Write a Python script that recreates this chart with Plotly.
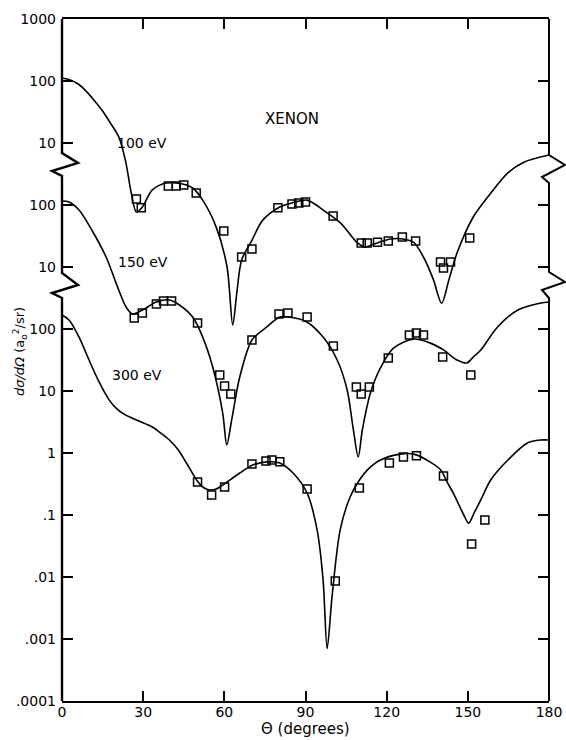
import plotly.graph_objects as go

# ---------------- data (true cross sections, a0^2/sr) ----------------
theta_100_curve = [0, 3, 6, 9, 12, 15, 18, 21, 23.5, 25.6, 27.5, 29.7, 33.4, 38.6, 44.5, 48.3, 52, 57, 61,
                   63.1, 64.6, 66.4, 70.2, 74.2, 80.5, 85, 90.6, 96.5, 103, 109, 112, 116.5, 121.4, 126,
                   130, 133.6, 137.3, 140.3, 143, 146, 152, 158.5, 164.8, 170.7, 180]
dcs_100_curve = [112, 104, 89.5, 68, 48, 32.8, 20.6, 12.5, 5.1, 1.56, 0.77, 0.93, 1.75, 2.26, 2.18, 1.88,
                 1.2, 0.44, 0.1, 0.0116, 0.038, 0.13, 0.27, 0.57, 0.93, 1.08, 1.2, 0.83, 0.51, 0.25, 0.21,
                 0.244, 0.283, 0.283, 0.25, 0.145, 0.062, 0.026, 0.062, 0.168, 0.64, 1.56, 3.3, 4.9, 6.4]
theta_100_data = [27.5, 29.3, 39.3, 42.2, 45, 49.6, 59.8, 66.4, 70.2, 79.8, 85, 87.5, 90, 100.2, 110.6, 112.8,
                  116.6, 120.6, 125.8, 130.7, 139.9, 141, 143.6, 150.7]
dcs_100_data = [1.25, 0.90, 2.02, 2.02, 2.10, 1.56, 0.38, 0.145, 0.195, 0.90, 1.04, 1.08, 1.12, 0.665, 0.244,
                0.244, 0.25, 0.262, 0.305, 0.262, 0.12, 0.096, 0.12, 0.294]

theta_150_curve = [0, 2.6, 6.3, 11, 16.3, 20, 23.7, 26, 29.7, 34.9, 39.7, 43.4, 48.3, 52, 55.7, 59.4, 60.9,
                   62.7, 65.7, 70.2, 75.7, 80.5, 84, 90.5, 96.5, 101.7, 105.4, 107.7, 109.5, 111, 114, 117.7,
                   122.5, 130, 135, 141, 146, 149.6, 152, 154.8, 161, 168.5, 177, 180]
dcs_150_curve = [116, 112, 83, 39.5, 14.5, 5.5, 2.26, 1.75, 2.02, 2.72, 2.94, 2.44, 1.56, 0.74, 0.244, 0.044,
                 0.0135, 0.034, 0.168, 0.665, 1.08, 1.56, 1.56, 1.30, 0.74, 0.316, 0.104, 0.0235, 0.0086,
                 0.0235, 0.093, 0.235, 0.49, 0.69, 0.62, 0.46, 0.316, 0.283, 0.353, 0.46, 1.08, 2.02, 2.62, 2.72]
theta_150_data = [26.7, 29.7, 34.9, 37.5, 40.5, 50.1, 58.3, 60.1, 62.4, 70.2, 80.2, 83.5, 90.6, 100.3, 108.8,
                  110.6, 113.6, 120.6, 128.4, 131, 133.6, 140.7, 151.1]
dcs_150_data = [1.50, 1.81, 2.53, 2.83, 2.83, 1.25, 0.181, 0.120, 0.0895, 0.665, 1.75, 1.81, 1.56, 0.53, 0.116,
                0.0895, 0.116, 0.34, 0.80, 0.86, 0.80, 0.353, 0.181]

theta_300_curve = [0, 2.6, 6.3, 10, 13.7, 17.4, 20, 22.3, 27.5, 33.4, 36, 39.7, 43, 46, 49.7, 52, 54.6, 57,
                   59.4, 65.7, 70.5, 75.7, 80.5, 85.4, 90.6, 94.3, 96.5, 98, 99.8, 102.8, 106.5, 110.2, 112.8,
                   117.7, 125, 130, 136, 140, 142.5, 145, 148.5, 150.3, 152.5, 154.8, 158.5, 164.8, 172, 177, 180]
dcs_300_curve = [168, 140, 74, 31.6, 14, 7.2, 5.3, 4.4, 3.4, 2.63, 2.18, 1.62, 1.12, 0.69, 0.37, 0.283, 0.253,
                 0.262, 0.305, 0.475, 0.64, 0.72, 0.69, 0.475, 0.226, 0.057, 0.009, 0.0007, 0.00475, 0.057,
                 0.195, 0.38, 0.53, 0.77, 0.96, 0.96, 0.72, 0.53, 0.33, 0.21, 0.1, 0.074, 0.112, 0.175, 0.37,
                 0.77, 1.45, 1.62, 1.62]
theta_300_data = [50.1, 55.3, 60.1, 70.2, 75.4, 77.6, 80.5, 90.6, 101, 109.9, 121, 126.2, 131, 141, 151.4, 156.3]
dcs_300_data = [0.34, 0.21, 0.283, 0.665, 0.74, 0.77, 0.72, 0.262, 0.0086, 0.272, 0.69, 0.86, 0.90, 0.425,
                0.034, 0.083]

energy_labels = ["100 eV", "150 eV", "300 eV"]
offsets = [1e4, 1e2, 1.0]   # vertical displacement of each curve on the shared log scale

x_tickvals = [0, 30, 60, 90, 120, 150, 180]
y_tickvals = [1e-4, 1e-3, 1e-2, 1e-1, 1, 10, 100, 1e3, 1e4, 1e5, 1e6, 1e7]
y_ticktext = [".0001", ".001", ".01", ".1", "1", "10", "100", "10", "100", "10", "100", "1000"]

# ---------------- figure ----------------
W, H = 566, 740
L, R, T, B = 62, 17, 19, 39
FONT = "DejaVu Sans"

fig = go.Figure()
series = [
    (theta_100_curve, dcs_100_curve, theta_100_data, dcs_100_data),
    (theta_150_curve, dcs_150_curve, theta_150_data, dcs_150_data),
    (theta_300_curve, dcs_300_curve, theta_300_data, dcs_300_data),
]
for (tc, dc, td, dd), off, name in zip(series, offsets, energy_labels):
    fig.add_trace(go.Scatter(x=tc, y=[v * off for v in dc], mode="lines",
                             line=dict(color="black", width=1.6, shape="spline", smoothing=0.85),
                             name=name, showlegend=False, hoverinfo="skip"))
    fig.add_trace(go.Scatter(x=td, y=[v * off for v in dd], mode="markers",
                             marker=dict(symbol="square-open", size=8, color="black",
                                         line=dict(width=1.5, color="black")),
                             name=name + " data", showlegend=False))

pw = W - L - R
ph = H - T - B


def px2x(px):
    return (px - L) / pw


def py2y(py):
    return (H - B - py) / ph


def path(points):
    s = ""
    for i, (a, b) in enumerate(points):
        s += ("M" if i == 0 else "L") + f"{px2x(a):.5f},{py2y(b):.5f} "
    return s


left_pts = [(62, 19), (62, 153), (78, 163), (52, 171), (62, 176), (62, 273), (78, 285), (52, 293),
            (62, 298), (62, 701)]
right_pts = [(549, 19), (549, 155), (565, 165), (542, 177), (549, 183), (549, 272), (565, 282),
             (542, 290), (549, 298), (549, 701)]
shapes = [
    dict(type="path", xref="paper", yref="paper", path=path(left_pts), line=dict(color="black", width=2.4)),
    dict(type="path", xref="paper", yref="paper", path=path(right_pts), line=dict(color="black", width=2.0)),
]

annotations = [
    dict(text="XENON", x=85, xref="x", y=py2y(108), yref="paper", showarrow=False,
         font=dict(size=15, family=FONT, color="black")),
    dict(text="100 eV", x=29.6, xref="x", y=py2y(133), yref="paper", showarrow=False,
         font=dict(size=14, family=FONT, color="black")),
    dict(text="150 eV", x=30, xref="x", y=py2y(262), yref="paper", showarrow=False,
         font=dict(size=14, family=FONT, color="black")),
    dict(text="300 eV", x=27.8, xref="x", y=py2y(375), yref="paper", showarrow=False,
         font=dict(size=14, family=FONT, color="black")),
    dict(text="<i>dσ/dΩ</i> (a<sub>o</sub><sup>2</sup>/sr)", x=px2x(20), xref="paper", y=py2y(352),
         yref="paper", xanchor="center", yanchor="middle", showarrow=False, textangle=-90,
         font=dict(size=13, family=FONT, color="black")),
    dict(text="Θ (degrees)", x=90, xref="x", y=py2y(729), yref="paper", showarrow=False,
         yanchor="middle", font=dict(size=15, family=FONT, color="black")),
]

fig.update_layout(
    width=W, height=H, margin=dict(l=L, r=R, t=T, b=B, pad=0, autoexpand=False),
    paper_bgcolor="white", plot_bgcolor="white",
    shapes=shapes, annotations=annotations,
    font=dict(family=FONT, size=14, color="black"),
    xaxis=dict(range=[0, 180], tickvals=x_tickvals, ticktext=[str(v) for v in x_tickvals],
               ticks="inside", ticklen=10, tickwidth=2, tickcolor="black",
               showline=True, linecolor="black", linewidth=2, mirror="ticks",
               showgrid=False, zeroline=False, tickfont=dict(size=14, family=FONT),
               ticklabelstandoff=-3, automargin=False),
    yaxis=dict(type="log", range=[-4, 7], tickvals=y_tickvals, ticktext=y_ticktext,
               ticks="inside", ticklen=11, tickwidth=2, tickcolor="black",
               showline=False, mirror="ticks", showgrid=False, zeroline=False,
               tickfont=dict(size=14, family=FONT), ticklabelstandoff=5, automargin=False),
)

fig.write_html("out.html", config={"displayModeBar": False},
               post_script="document.body.style.margin='0';document.body.style.overflow='hidden';")
